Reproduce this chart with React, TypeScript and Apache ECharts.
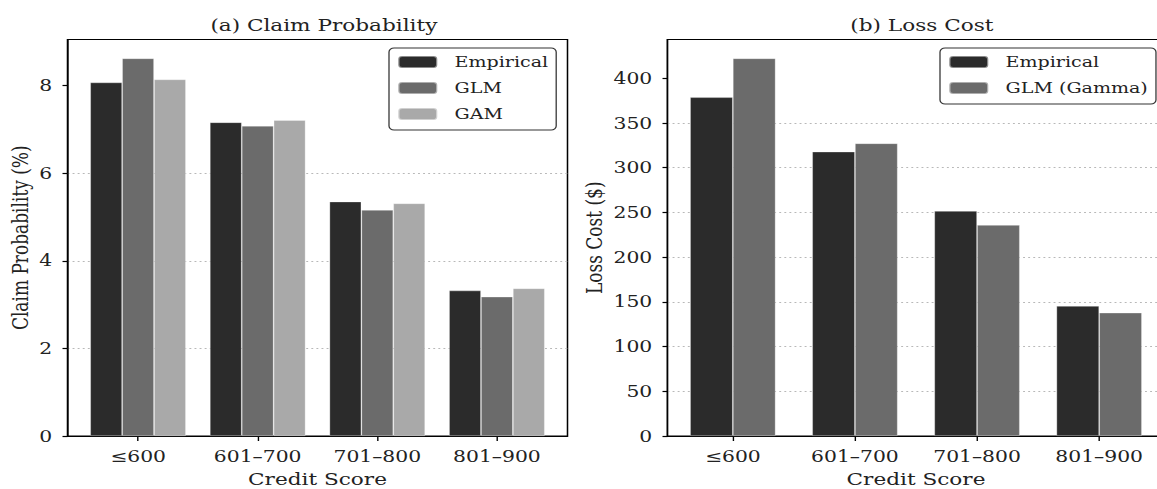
import React, { useEffect, useRef } from "react";
import * as echarts from "echarts";

const categories = ["≤600", "601–700", "701–800", "801–900"];
const claimEmpirical = [8.07, 7.16, 5.35, 3.32];
const claimGLM = [8.62, 7.08, 5.16, 3.18];
const claimGAM = [8.14, 7.21, 5.31, 3.37];
const lossEmpirical = [378.6, 317.8, 251.5, 145.3];
const lossGLMGamma = [422.1, 327.1, 235.8, 137.8];
const claimTicks = [0, 2, 4, 6, 8];
const lossTicks = [0, 50, 100, 150, 200, 250, 300, 350, 400];

const FONT = "DejaVu Serif";
const C_EMP = "#2b2b2b";
const C_GLM = "#6b6b6b";
const C_GAM = "#a9a9a9";
// the reference picture is stretched horizontally
const S = 1.27;
const W = 1157;
const H = 489;

const toPairs = (arr: number[]) => arr.map((v, i) => [i, v]);
const tickIdx = categories.map((_, i) => i);

export default function App() {
  const ref = useRef<HTMLDivElement>(null);
  useEffect(() => {
    if (!ref.current) return;
    const chart = echarts.init(ref.current, null, { renderer: "svg" });
    const xAxisBase = (gridIndex: number, min: number, max: number) => ({
      type: "value",
      gridIndex,
      min,
      max,
      axisLine: { show: true, onZero: false, lineStyle: { color: "#000", width: 1.2 } },
      axisTick: { show: true, customValues: tickIdx, length: 5, lineStyle: { color: "#000", width: 1.1 } },
      axisLabel: {
        customValues: tickIdx,
        formatter: (v: number) => categories[Math.round(v)] ?? "",
        fontFamily: FONT,
        fontSize: 16,
        color: "#222",
        margin: 12,
      },
      splitLine: { show: false },
      name: "Credit Score",
      nameLocation: "middle",
      nameGap: 34,
      nameTextStyle: { fontFamily: FONT, fontSize: 17, lineHeight: 18, color: "#222" },
    });
    const yAxisBase = (gridIndex: number, max: number, interval: number, ticks: number[], name: string, nameGap: number) => ({
      type: "value",
      gridIndex,
      min: 0,
      max,
      interval,
      axisLine: { show: true, onZero: false, lineStyle: { color: "#000", width: 1.1 } },
      axisTick: { show: true, customValues: ticks, length: 5 / S, lineStyle: { color: "#000", width: 1.2 } },
      axisLabel: {
        customValues: ticks,
        fontFamily: FONT,
        fontSize: 16,
        color: "#222",
        margin: 12,
      },
      splitLine: { show: true, showMinLine: false, showMaxLine: false, lineStyle: { color: "#b8b8b8", type: [1.5, 2.5], width: 1 } },
      name,
      nameLocation: "middle",
      nameGap,
      nameTextStyle: { fontFamily: FONT, fontSize: 17, color: "#222" },
    });
    const barBase = (name: string, data: number[], color: string, xi: number, width: string) => ({
      type: "bar",
      name,
      xAxisIndex: xi,
      yAxisIndex: xi,
      data: toPairs(data),
      barWidth: width,
      barGap: "0%",
      itemStyle: { color, borderColor: "rgba(255,255,255,0.45)", borderWidth: 0.6 },
    });
    const legendBase = (left: number, data: string[]) => ({
      data,
      orient: "vertical",
      left: left / S,
      top: 48,
      itemWidth: 39 / S,
      itemHeight: 12,
      itemGap: 8,
      padding: [5, 8 / S, 7, 8 / S],
      borderColor: "#333",
      borderWidth: 1,
      borderRadius: 4,
      backgroundColor: "#fff",
      selectedMode: false,
      textStyle: { fontFamily: FONT, fontSize: 15, color: "#222", lineHeight: 18, padding: [0, 0, 0, 11 / S] },
    });
    chart.setOption({
      animation: false,
      backgroundColor: "#fff",
      title: [
        { text: "(a) Claim Probability", left: 317.5 / S, top: 12, textAlign: "center",
          textStyle: { fontFamily: FONT, fontSize: 17, fontWeight: "normal", color: "#222" } },
        { text: "(b) Loss Cost", left: 915.5 / S, top: 12, textAlign: "center",
          textStyle: { fontFamily: FONT, fontSize: 17, fontWeight: "normal", color: "#222" } },
      ],
      legend: [
        legendBase(389, ["Empirical", "GLM", "GAM"]),
        legendBase(940, ["Empirical", "GLM (Gamma)"]),
      ],
      grid: [
        { left: 67.5 / S, top: 39.5, width: 500 / S, height: 396.5, outerBoundsMode: "none", containLabel: false,
          show: true, borderColor: "#000", borderWidth: 1.2, backgroundColor: "transparent" },
        { left: 667.5 / S, top: 39.5, width: 497 / S, height: 396.5, outerBoundsMode: "none", containLabel: false,
          show: true, borderColor: "#000", borderWidth: 1.2, backgroundColor: "transparent" },
      ],
      xAxis: [xAxisBase(0, -0.59, 3.59), xAxisBase(1, -0.535, 3.535)],
      yAxis: [
        yAxisBase(0, 9.051, 2, claimTicks, "Claim Probability (%)", 28),
        yAxisBase(1, 443.2, 50, lossTicks, "Loss Cost ($)", 49),
      ],
      series: [
        barBase("Empirical", claimEmpirical, C_EMP, 0, "26.667%"),
        barBase("GLM", claimGLM, C_GLM, 0, "26.667%"),
        barBase("GAM", claimGAM, C_GAM, 0, "26.667%"),
        barBase("Empirical", lossEmpirical, C_EMP, 1, "35%"),
        barBase("GLM (Gamma)", lossGLMGamma, C_GLM, 1, "35%"),
      ],
    });
    return () => chart.dispose();
  }, []);
  return (
    <div style={{ position: "absolute", left: 0, top: 0, width: W, height: H, overflow: "hidden", background: "#fff" }}>
      <div
        ref={ref}
        style={{ width: W / S, height: H, transform: `scaleX(${S})`, transformOrigin: "0 0" }}
      />
    </div>
  );
}
